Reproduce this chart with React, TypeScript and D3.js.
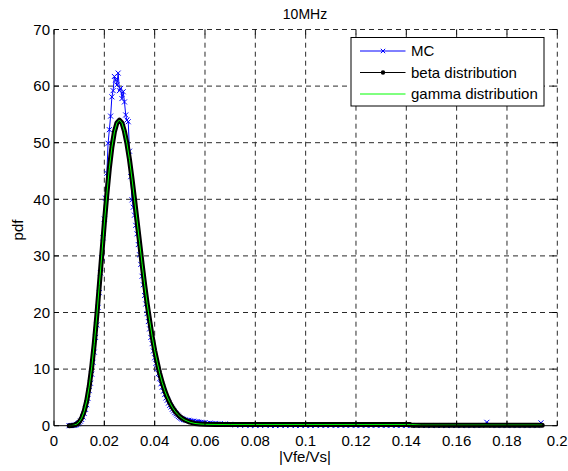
import React from "react";
import * as d3 from "d3";

// ---- data ----
const curveX = [
  0.006, 0.007, 0.008, 0.009, 0.010, 0.011, 0.012, 0.013, 0.014, 0.015,
  0.016, 0.017, 0.018, 0.019, 0.020, 0.021, 0.022, 0.023, 0.024, 0.025,
  0.026, 0.027, 0.028, 0.029, 0.030, 0.031, 0.032, 0.033, 0.034, 0.035,
  0.036, 0.037, 0.038, 0.039, 0.040, 0.041, 0.042, 0.043, 0.044, 0.045,
  0.046, 0.047, 0.048, 0.049, 0.050, 0.051, 0.052, 0.054, 0.056, 0.058,
  0.060, 0.064, 0.070, 0.080, 0.100, 0.120, 0.1416, 0.142, 0.146, 0.160,
  0.180, 0.194,
];
const betaY = [
  0.006, 0.028, 0.097, 0.27, 0.65, 1.36, 2.56, 4.39, 6.97, 10.4,
  14.5, 19.4, 24.8, 30.3, 35.8, 40.9, 45.5, 49.2, 51.9, 53.5,
  54.0, 53.5, 52.0, 49.8, 47.0, 43.6, 40.0, 36.2, 32.4, 28.6,
  25.0, 21.6, 18.6, 15.8, 13.3, 11.2, 9.25, 7.61, 6.22, 5.06,
  4.08, 3.27, 2.61, 2.07, 1.63, 1.28, 1.0, 0.62, 0.4, 0.3,
  0.25, 0.22, 0.2, 0.2, 0.2, 0.2, 0.2, 0.1, 0.1, 0.1,
  0.1, 0.1,
];
const gammaY = [
  0.006, 0.028, 0.097, 0.27, 0.65, 1.36, 2.56, 4.39, 6.97, 10.4,
  14.5, 19.4, 24.8, 30.3, 35.8, 40.9, 45.5, 49.2, 51.9, 53.5,
  54.0, 53.5, 52.0, 49.8, 47.0, 43.6, 40.0, 36.2, 32.4, 28.6,
  25.0, 21.6, 18.6, 15.8, 13.3, 11.2, 9.25, 7.61, 6.22, 5.06,
  4.08, 3.27, 2.61, 2.07, 1.63, 1.28, 1.0, 0.62, 0.4, 0.3,
  0.25, 0.22, 0.2, 0.2, 0.2, 0.2, 0.2, 0.2, 0.1, 0.1,
  0.1, 0.1,
];

const mcX = [
  0.0060, 0.0065, 0.0070, 0.0075, 0.0080, 0.0085, 0.0090, 0.0095, 0.0100, 0.0105,
  0.0110, 0.0115, 0.0120, 0.0125, 0.0130, 0.0135, 0.0140, 0.0145, 0.0150, 0.0155,
  0.0160, 0.0165, 0.0170, 0.0175, 0.0180, 0.0185, 0.0190, 0.0195, 0.0200, 0.0205,
  0.0210, 0.0215, 0.0220, 0.0225, 0.0230, 0.0235, 0.0240, 0.0245, 0.0250, 0.0255,
  0.0260, 0.0265, 0.0270, 0.0275, 0.0280, 0.0285, 0.0290, 0.0295, 0.0300, 0.0305,
  0.0310, 0.0315, 0.0320, 0.0325, 0.0330, 0.0335, 0.0340, 0.0345, 0.0350, 0.0355,
  0.0360, 0.0365, 0.0370, 0.0375, 0.0380, 0.0385, 0.0390, 0.0395, 0.0400, 0.0405,
  0.0410, 0.0415, 0.0420, 0.0425, 0.0430, 0.0435, 0.0440, 0.0445, 0.0450, 0.0455,
  0.0460, 0.0465, 0.0470, 0.0475, 0.0480, 0.0485, 0.0490, 0.0495, 0.0500, 0.0505,
  0.0510, 0.0515, 0.0520, 0.0525, 0.0530, 0.0535, 0.0540, 0.0545, 0.0550, 0.0555,
  0.0560, 0.0565, 0.0570, 0.0575, 0.0580, 0.0585, 0.0590, 0.0595, 0.0600, 0.0610,
  0.0620, 0.0630, 0.0640, 0.0650, 0.0660, 0.0670, 0.0680, 0.0690, 0.0700, 0.0720,
  0.0740, 0.0760, 0.0780, 0.0800, 0.0820, 0.0840, 0.0860, 0.0880, 0.0900, 0.0920,
  0.0940, 0.0960, 0.0980, 0.1000, 0.1020, 0.1040, 0.1060, 0.1080, 0.1100, 0.1120,
  0.1140, 0.1160, 0.1180, 0.1200, 0.1220, 0.1240, 0.1260, 0.1280, 0.1300, 0.1320,
  0.1340, 0.1360, 0.1380, 0.1400, 0.1420, 0.1440, 0.1460, 0.1480, 0.1500, 0.1520,
  0.1540, 0.1560, 0.1580, 0.1600, 0.1620, 0.1640, 0.1660, 0.1680, 0.1700, 0.1720,
  0.1740, 0.1760, 0.1780, 0.1800, 0.1820, 0.1840, 0.1860, 0.1880, 0.1900, 0.1920,
  0.1935,
];
const mcY = [
  0.0, 0.02, 0.03, 0.05, 0.08, 0.12, 0.22, 0.35, 0.52, 0.8,
  1.1, 1.55, 2.15, 2.9, 3.7, 4.8, 6.2, 7.5, 9.1, 11.2,
  13.0, 15.6, 17.8, 20.9, 23.5, 27.0, 29.6, 33.2, 36.5, 40.2,
  44.6, 49.9, 52.3, 54.7, 58.1, 59.2, 61.7, 61.1, 60.2, 62.3,
  59.2, 59.6, 57.8, 59.0, 57.2, 54.9, 54.0, 53.7, 48.5, 44.0,
  39.9, 38.6, 37.2, 35.4, 33.9, 32.0, 30.2, 28.5, 26.4, 24.9,
  23.0, 21.5, 19.8, 18.4, 17.1, 15.6, 14.5, 13.2, 12.0, 11.0,
  10.1, 9.2, 8.3, 7.4, 6.8, 6.1, 5.5, 4.9, 4.5, 4.0,
  3.6, 3.3, 2.9, 2.6, 2.3, 2.1, 1.85, 1.65, 1.45, 1.3,
  1.2, 1.1, 1.05, 0.95, 0.9, 0.95, 0.85, 0.8, 0.75, 0.8,
  0.7, 0.65, 0.7, 0.6, 0.55, 0.6, 0.5, 0.45, 0.5, 0.4,
  0.45, 0.35, 0.4, 0.3, 0.35, 0.25, 0.3, 0.2, 0.25, 0.12,
  0.08, 0.1, 0.05, 0.08, 0.06, 0.1, 0.05, 0.04, 0.07, 0.05,
  0.08, 0.04, 0.06, 0.05, 0.03, 0.07, 0.05, 0.04, 0.06, 0.03,
  0.05, 0.04, 0.06, 0.03, 0.05, 0.04, 0.03, 0.05, 0.04, 0.03,
  0.05, 0.03, 0.04, 0.03, 0.05, 0.03, 0.04, 0.03, 0.02, 0.04,
  0.03, 0.02, 0.04, 0.03, 0.02, 0.03, 0.02, 0.03, 0.04, 0.6,
  0.03, 0.02, 0.03, 0.02, 0.03, 0.02, 0.03, 0.02, 0.03, 0.02,
  0.5,
];

const xTicks = [0, 0.02, 0.04, 0.06, 0.08, 0.1, 0.12, 0.14, 0.16, 0.18, 0.2];
const xTickLabels = ["0", "0.02", "0.04", "0.06", "0.08", "0.1", "0.12", "0.14", "0.16", "0.18", "0.2"];
const yTicks = [0, 10, 20, 30, 40, 50, 60, 70];
const legendLabels = ["MC", "beta distribution", "gamma distribution"];

const W = 568;
const H = 471;
const L = 54;
const R = 557.3;
const T = 29.5;
const B = 425.7;
const FONT = "'Liberation Sans', Arial, Helvetica, sans-serif";

export default function App() {
  const x = d3.scaleLinear().domain([0, 0.2]).range([L, R]);
  const y = d3.scaleLinear().domain([0, 70]).range([B, T]);

  const curvePts: [number, number][] = curveX.map((v, i) => [v, betaY[i]]);
  const gammaPts: [number, number][] = curveX.map((v, i) => [v, gammaY[i]]);
  const mcPts: [number, number][] = mcX.map((v, i) => [v, mcY[i]]);

  const line = d3
    .line<[number, number]>()
    .x((d) => x(d[0]))
    .y((d) => y(d[1]));

  const tick = 5;
  const grid = "#2a2a2a";
  const dash = "5,4";

  const legX0 = 351;
  const legY0 = 37.5;
  const legW = 193;
  const legH = 68.5;
  const rowY = [51, 72.5, 94];

  const cross = (cx: number, cy: number, s: number, key: string) => (
    <path
      key={key}
      d={`M${cx - s},${cy - s}L${cx + s},${cy + s}M${cx - s},${cy + s}L${cx + s},${cy - s}`}
      stroke="#0000ff"
      strokeWidth={1}
      fill="none"
    />
  );

  return (
    <svg
      width={W}
      height={H}
      style={{ position: "absolute", left: 0, top: 0, display: "block", background: "#fff" }}
      fontFamily={FONT}
    >
      <rect x={0} y={0} width={W} height={H} fill="#fff" />
      {/* grid */}
      {xTicks.slice(1, -1).map((t) => (
        <line key={"gx" + t} x1={x(t)} x2={x(t)} y1={B} y2={T} stroke={grid} strokeWidth={1} strokeDasharray={dash} />
      ))}
      {yTicks.slice(1, -1).map((t) => (
        <line key={"gy" + t} x1={L} x2={R} y1={y(t)} y2={y(t)} stroke={grid} strokeWidth={1} strokeDasharray={dash} />
      ))}
      <line x1={L} x2={R} y1={T} y2={T} stroke={grid} strokeWidth={1} strokeDasharray={dash} />
      <line x1={R} x2={R} y1={B} y2={T} stroke={grid} strokeWidth={1} strokeDasharray={dash} />

      {/* MC */}
      <path d={line(mcPts) || ""} fill="none" stroke="#0000ff" strokeWidth={1} />
      {mcPts.map((p, i) => cross(x(p[0]), y(p[1]), 2.5, "m" + i))}

      {/* beta */}
      <path d={line(curvePts) || ""} fill="none" stroke="#000" strokeWidth={5} strokeLinejoin="round" strokeLinecap="round" />
      {/* gamma */}
      <path d={line(gammaPts) || ""} fill="none" stroke="#00ff00" strokeWidth={1} />

      {/* axes box */}
      <line x1={L} x2={L} y1={T} y2={B} stroke="#000" strokeWidth={1} />
      <line x1={L} x2={R} y1={B} y2={B} stroke="#000" strokeWidth={1} />
      {xTicks.map((t, i) => (
        <g key={"xt" + i}>
          <line x1={x(t)} x2={x(t)} y1={B} y2={B - tick} stroke="#000" />
          <line x1={x(t)} x2={x(t)} y1={T} y2={T + tick} stroke="#000" />
          <text x={x(t)} y={446} textAnchor="middle" fontSize={15} fill="#000">
            {xTickLabels[i]}
          </text>
        </g>
      ))}
      {yTicks.map((t) => (
        <g key={"yt" + t}>
          <line x1={L} x2={L + tick} y1={y(t)} y2={y(t)} stroke="#000" />
          <line x1={R} x2={R - tick} y1={y(t)} y2={y(t)} stroke="#000" />
          <text x={50} y={y(t) + 5.3} textAnchor="end" fontSize={15} fill="#000">
            {t}
          </text>
        </g>
      ))}

      {/* labels */}
      <text x={305} y={18.5} textAnchor="middle" fontSize={14} fill="#000">
        10MHz
      </text>
      <text x={305} y={462} textAnchor="middle" fontSize={15} fill="#000">
        |Vfe/Vs|
      </text>
      <text transform={`translate(23,230) rotate(-90)`} textAnchor="middle" fontSize={15} fill="#000">
        pdf
      </text>

      {/* legend */}
      <rect x={legX0} y={legY0} width={legW} height={legH} fill="#fff" stroke="#000" strokeWidth={1} />
      <line x1={360} x2={405.5} y1={rowY[0]} y2={rowY[0]} stroke="#0000ff" />
      {cross(383, rowY[0], 2.2, "lm")}
      <line x1={360} x2={405.5} y1={rowY[1]} y2={rowY[1]} stroke="#000" />
      <circle cx={383} cy={rowY[1]} r={2.2} fill="#000" />
      <line x1={360} x2={405.5} y1={rowY[2]} y2={rowY[2]} stroke="#00ff00" />
      {legendLabels.map((s, i) => (
        <text key={s} x={411} y={rowY[i] + 5.3} fontSize={15} fill="#000">
          {s}
        </text>
      ))}
    </svg>
  );
}
